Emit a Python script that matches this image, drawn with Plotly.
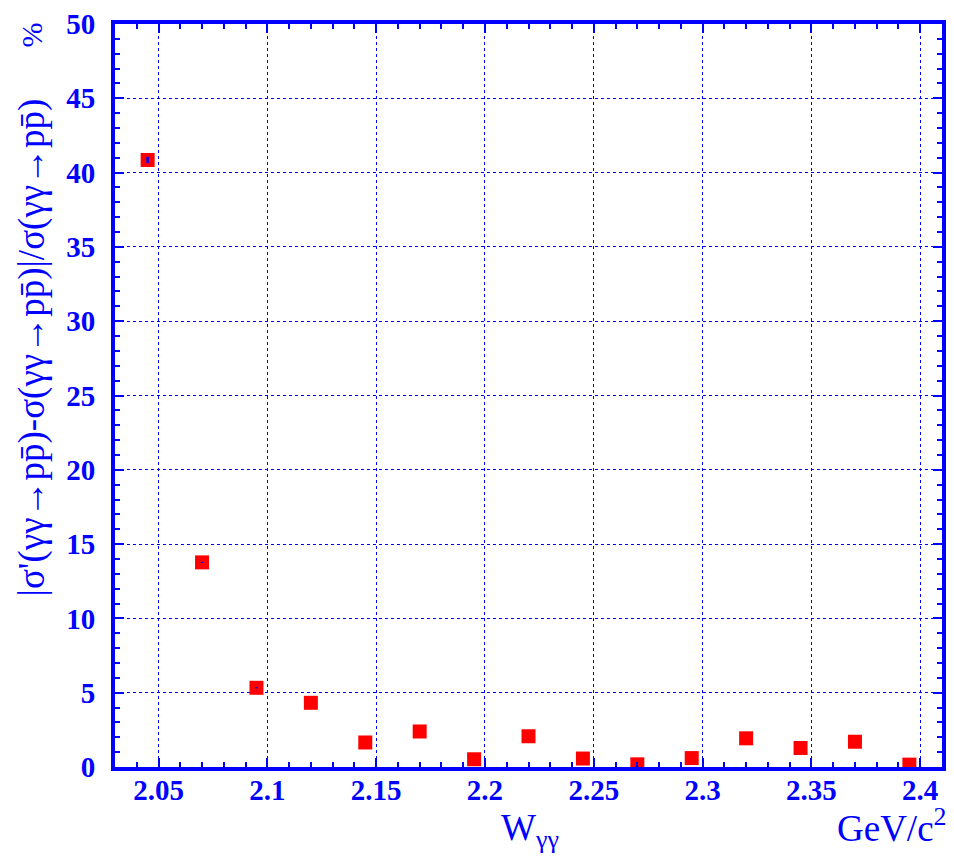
import plotly.graph_objects as go

# Data
w_gg = [2.045, 2.070, 2.095, 2.120, 2.145, 2.170, 2.195, 2.220,
        2.245, 2.270, 2.295, 2.320, 2.345, 2.370, 2.395]
rel_diff = [40.85, 13.77, 5.33, 4.32, 1.65, 2.39, 0.52, 2.07,
            0.57, 0.18, 0.60, 1.93, 1.28, 1.70, 0.16]
rel_err = [0.22, 0.04, 0.04, 0.0, 0.0, 0.0, 0.0, 0.0,
           0.0, 0.0, 0.0, 0.0, 0.0, 0.0, 0.0]

BLUE = "#0000ff"
RED = "#ff0000"
SERIF = "Liberation Serif"

fig = go.Figure()
fig.add_trace(go.Scatter(
    x=w_gg, y=rel_diff, mode="markers",
    marker=dict(symbol="square", size=14, color=RED, line=dict(width=0)),
    showlegend=False, hoverinfo="skip",
))
# error bars drawn on top of the markers (as in the reference)
fig.add_trace(go.Scatter(
    x=w_gg, y=rel_diff, mode="markers",
    marker=dict(symbol="square", size=14, color=RED, opacity=0),
    error_y=dict(type="data", array=rel_err, visible=True, color=BLUE,
                 thickness=2.5, width=0),
    showlegend=False,
))

axis_common = dict(
    showline=True, linecolor=BLUE, linewidth=4, mirror="allticks",
    ticks="inside", ticklen=9, tickwidth=1.5, tickcolor=BLUE,
    showgrid=True, gridcolor=BLUE, gridwidth=1, griddash="dot",
    zeroline=False,
    tickfont=dict(family=SERIF, size=29, color=BLUE, weight="bold"),
)

fig.update_xaxes(range=[2.03, 2.41], tick0=2.05, dtick=0.05, tickformat=".2~f",
                 ticklabelstandoff=-6,
                 minor=dict(dtick=0.01, tick0=2.0, ticks="inside", ticklen=5,
                            tickcolor=BLUE, tickwidth=1.5, showgrid=False),
                 **axis_common)
fig.update_yaxes(range=[0, 50], tick0=0, dtick=5, ticklabelstandoff=10,
                 minor=dict(dtick=1, tick0=0, ticks="inside", ticklen=5,
                            tickcolor=BLUE, tickwidth=1.5, showgrid=False),
                 **axis_common)

pbar = "p\u0304"
ytitle = ("|\u03c3'(\u03b3\u03b3\u2192p" + pbar + ")-\u03c3(\u03b3\u03b3\u2192p" + pbar +
          ")|/\u03c3(\u03b3\u03b3\u2192p" + pbar + ")")

fig.update_layout(
    width=954, height=859,
    margin=dict(l=115, r=8, t=18, b=92),
    plot_bgcolor="white", paper_bgcolor="white",
    annotations=[
        dict(text=ytitle, xref="paper", yref="paper", x=-0.1, y=0.565,
             xanchor="center", yanchor="middle", textangle=-90, showarrow=False,
             font=dict(family=SERIF, size=37, color=BLUE)),
        dict(text="%", xref="paper", yref="paper", x=-0.101, y=0.985,
             xanchor="center", yanchor="middle", textangle=-90, showarrow=False,
             font=dict(family=SERIF, size=30, color=BLUE)),
        dict(text="W<sub>\u03b3\u03b3</sub>", xref="paper", yref="paper",
             x=0.502, y=-0.051, xanchor="center", yanchor="top", showarrow=False,
             font=dict(family=SERIF, size=37, color=BLUE)),
        dict(text="GeV/c<sup>2</sup>", xref="paper", yref="paper",
             x=1.008, y=-0.045, xanchor="right", yanchor="top", showarrow=False,
             font=dict(family=SERIF, size=37, color=BLUE)),
    ],
)

fig.write_html("out.html")
